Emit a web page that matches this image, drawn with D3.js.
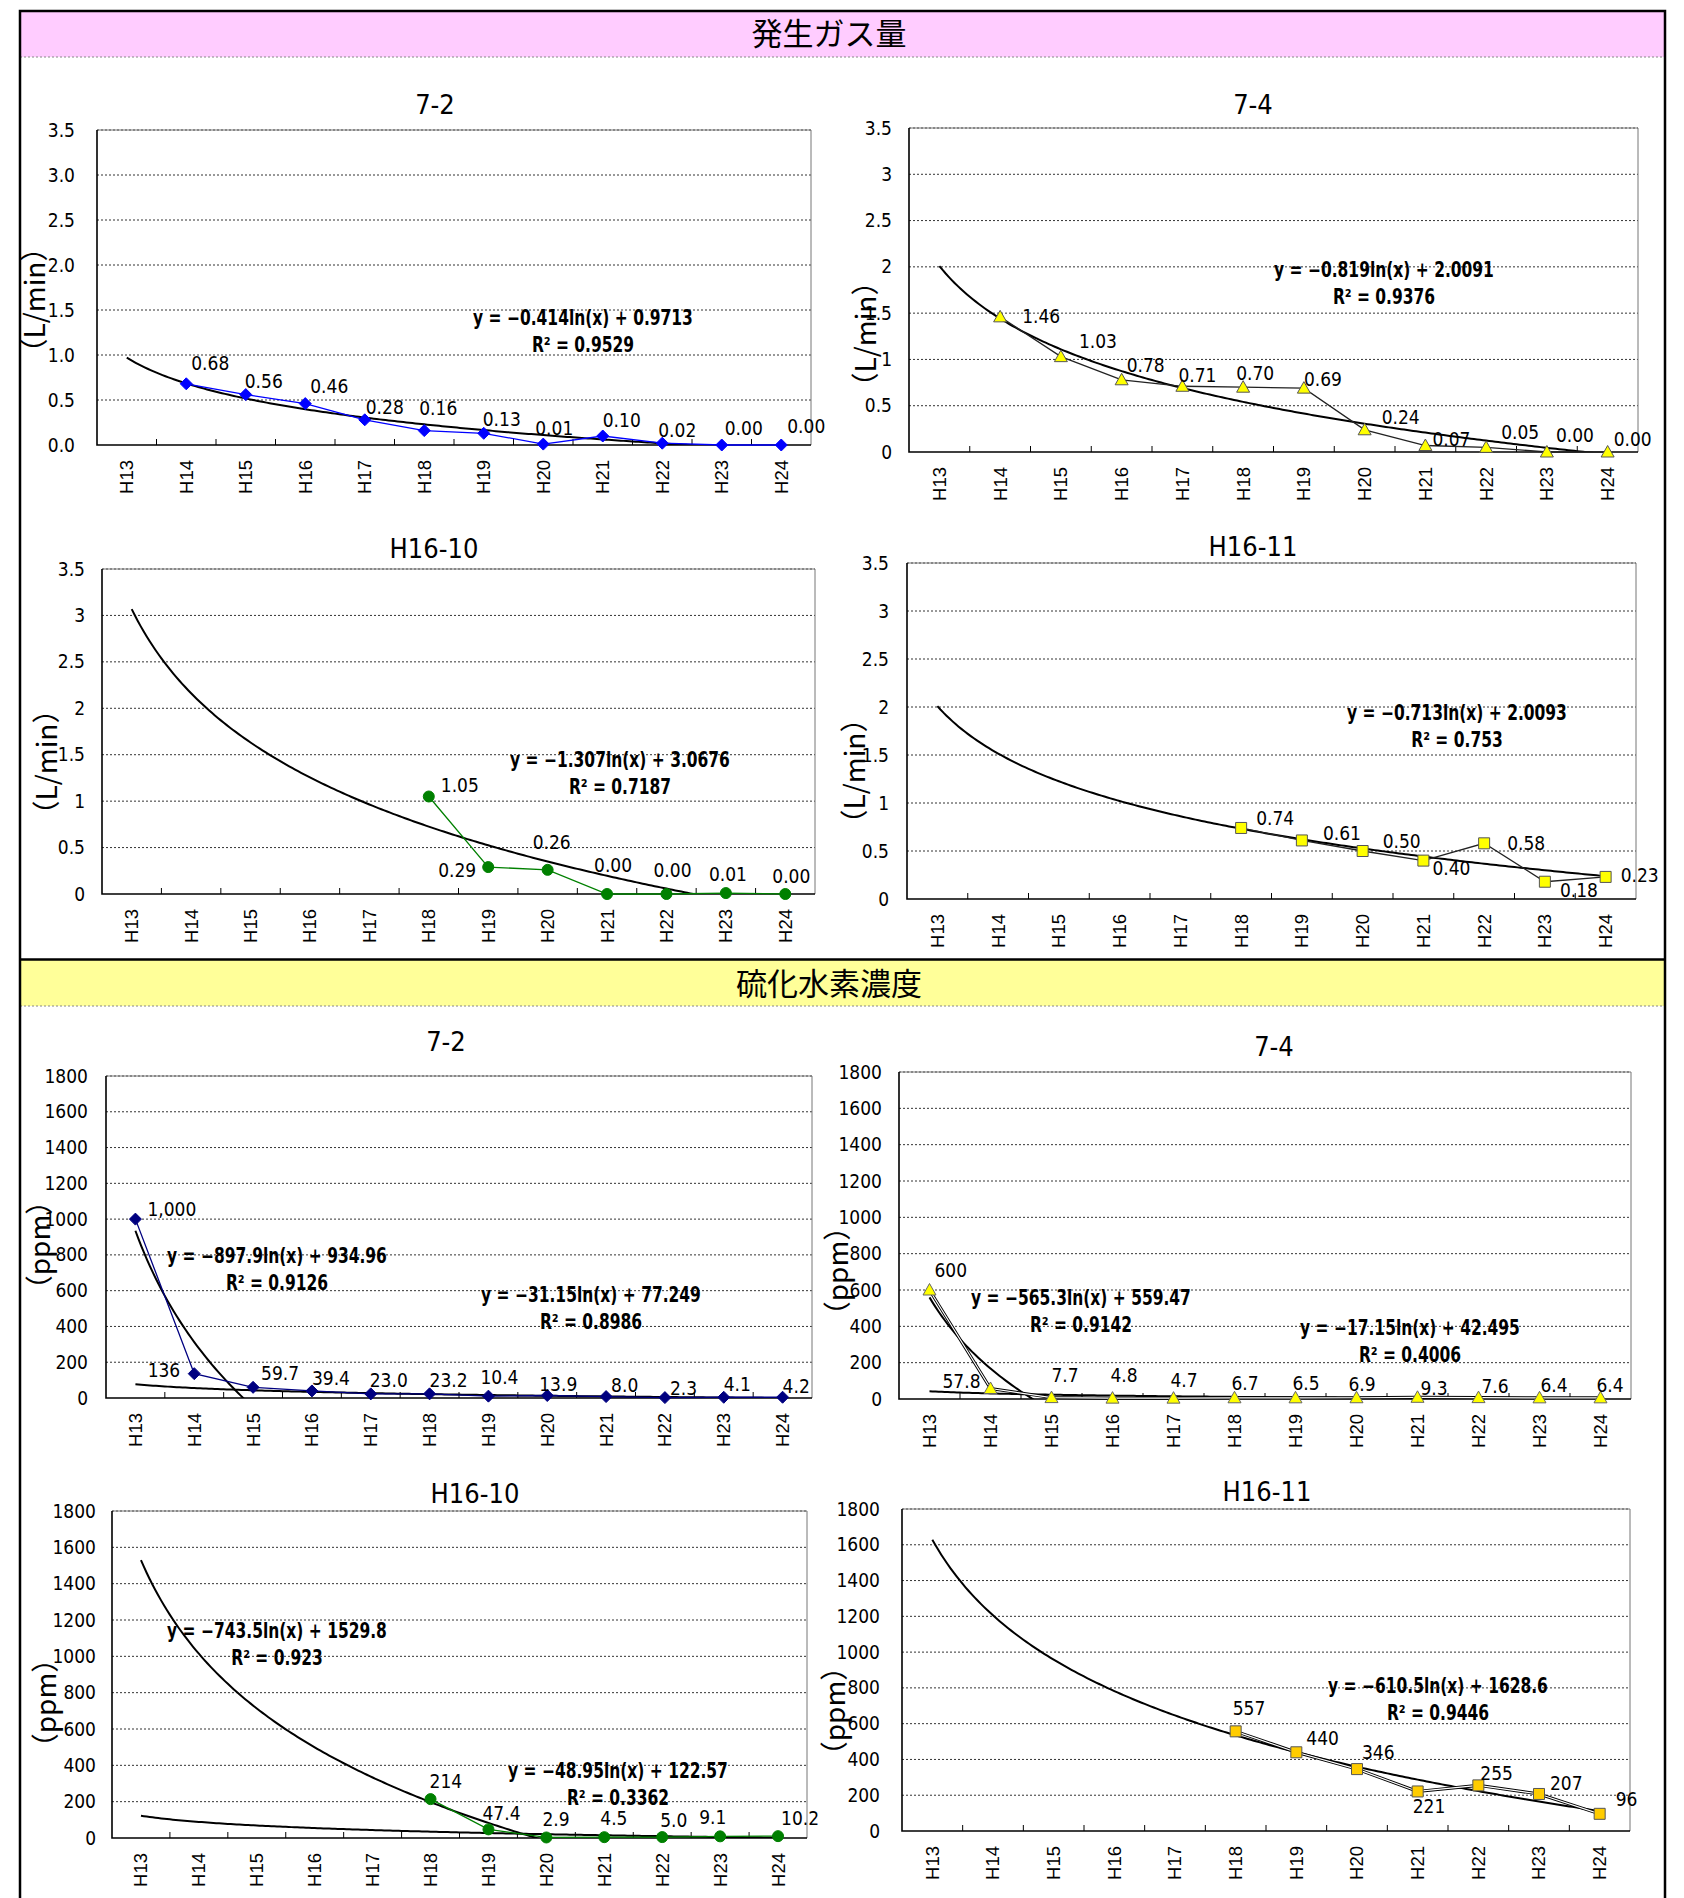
<!DOCTYPE html>
<html>
<head>
<meta charset="utf-8">
<script src="https://cdn.jsdelivr.net/npm/d3@7"></script>
<style>
body { margin: 0; background: #fff; }
</style>
</head>
<body>
<div id="vis"></div>
<script>
// categories
var years = ["H13", "H14", "H15", "H16", "H17", "H18", "H19", "H20", "H21", "H22", "H23", "H24"];

// 発生ガス量 (L/min)
var gas72   = [null, 0.68, 0.56, 0.46, 0.28, 0.16, 0.13, 0.01, 0.10, 0.02, 0.00, 0.00];
var gas74   = [null, 1.46, 1.03, 0.78, 0.71, 0.70, 0.69, 0.24, 0.07, 0.05, 0.00, 0.00];
var gasH1610 = [null, null, null, null, null, 1.05, 0.29, 0.26, 0.00, 0.00, 0.01, 0.00];
var gasH1611 = [null, null, null, null, null, 0.74, 0.61, 0.50, 0.40, 0.58, 0.18, 0.23];

// 硫化水素濃度 (ppm)
var h2s72   = [1000, 136, 59.7, 39.4, 23.0, 23.2, 10.4, 13.9, 8.0, 2.3, 4.1, 4.2];
var h2s74   = [600, 57.8, 7.7, 4.8, 4.7, 6.7, 6.5, 6.9, 9.3, 7.6, 6.4, 6.4];
var h2sH1610 = [null, null, null, null, null, 214, 47.4, 2.9, 4.5, 5.0, 9.1, 10.2];
var h2sH1611 = [null, null, null, null, null, 557, 440, 346, 221, 255, 207, 96];

// log trendlines: [slope, intercept, R2]
var trendGas72 = [[-0.414, 0.9713, 0.9529]];
var trendGas74 = [[-0.819, 2.0091, 0.9376]];
var trendGasH1610 = [[-1.307, 3.0676, 0.7187]];
var trendGasH1611 = [[-0.713, 2.0093, 0.753]];
var trendH2s72 = [[-897.9, 934.96, 0.9126], [-31.15, 77.249, 0.8986]];
var trendH2s74 = [[-565.3, 559.47, 0.9142], [-17.15, 42.495, 0.4006]];
var trendH2sH1610 = [[-743.5, 1529.8, 0.923], [-48.95, 122.57, 0.3362]];
var trendH2sH1611 = [[-610.5, 1628.6, 0.9446]];

// axis ticks
var gasTicks = [0, 0.5, 1, 1.5, 2, 2.5, 3, 3.5];
var h2sTicks = [0, 200, 400, 600, 800, 1000, 1200, 1400, 1600, 1800];

var narrow = "'Liberation Sans Narrow', 'DejaVu Sans Condensed', sans-serif";
var jp = "'Noto Sans CJK JP', sans-serif";

var svg = d3.select("#vis")
    .append("svg")
    .attr("width", 1684)
    .attr("height", 1898)
    .style("background", "#fff");

// frame + section headers
svg.append("rect").attr("x", 20).attr("y", 11).attr("width", 1645).attr("height", 46).attr("fill", "#FFCCFF");
svg.append("rect").attr("x", 20).attr("y", 960).attr("width", 1645).attr("height", 46).attr("fill", "#FFFF99");
[57, 1006].forEach(function(y) {
  svg.append("line").attr("x1", 20).attr("x2", 1665).attr("y1", y).attr("y2", y)
     .attr("stroke", "#888").attr("stroke-dasharray", "2,2");
});
svg.append("line").attr("x1", 20).attr("x2", 1665).attr("y1", 959.5).attr("y2", 959.5)
   .attr("stroke", "#000").attr("stroke-width", 2.5);
svg.append("rect").attr("x", 20).attr("y", 11).attr("width", 1645).attr("height", 1920)
   .attr("fill", "none").attr("stroke", "#000").attr("stroke-width", 2.5);

svg.append("text").attr("x", 829).attr("y", 45).attr("text-anchor", "middle")
   .style("font", "31px " + jp).text("発生ガス量");
svg.append("text").attr("x", 829).attr("y", 995).attr("text-anchor", "middle")
   .style("font", "31px " + jp).text("硫化水素濃度");

var markers = {
  diamond: "M0,-6L6,0L0,6L-6,0Z",
  triangle: "M0,-6.5L6.5,5L-6.5,5Z",
  square: "M-5.5,-5.5H5.5V5.5H-5.5Z"
};

var fmtMixed = function(v) { return v >= 100 ? d3.format(",.0f")(v) : d3.format(".1f")(v); };

var panels = [
  { id: "g72", data: gas72, trends: trendGas72, ticks: gasTicks, tickFmt: d3.format(".1f"),
    x0: 97, x1: 811, y0: 130, y1: 445, tickGap: 22,
    title: "7-2", titleX: 435, titleY: 114, ylab: "（L/min）", ylabX: 35, ylabY: 300,
    eq: [[583, 325]], marker: "diamond", stroke: "#0000FF", fill: "#0000FF", mstroke: "#0000FF", hollow: false,
    lbl: d3.format(".2f"),
    nudge: [null, [5,-14], [-1,-7], [5,-11], [1,-6], [-5,-16], [-1,-7], [-8,-9], [0,-9], [-4,-6], [3,-10], [6,-12]] },
  { id: "g74", data: gas74, trends: trendGas74, ticks: gasTicks, tickFmt: String,
    x0: 909, x1: 1638, y0: 128, y1: 452, tickGap: 17,
    title: "7-4", titleX: 1253, titleY: 114, ylab: "（L/min）", ylabX: 866, ylabY: 334,
    eq: [[1384, 277]], marker: "triangle", stroke: "#222", fill: "#FFFF00", mstroke: "#555", hollow: false,
    lbl: d3.format(".2f"),
    nudge: [null, [22,6], [18,-9], [5,-8], [-4,-4], [-7,-7], [0,-2], [17,-6], [7,0], [15,-8], [9,-10], [6,-6]] },
  { id: "g1610", data: gasH1610, trends: trendGasH1610, ticks: gasTicks, tickFmt: String,
    x0: 102, x1: 815, y0: 569, y1: 894, tickGap: 17,
    title: "H16-10", titleX: 434, titleY: 558, ylab: "（L/min）", ylabX: 47, ylabY: 762,
    eq: [[620, 767]], marker: "circle", stroke: "#008000", fill: "#008000", mstroke: "#008000", hollow: false,
    lbl: d3.format(".2f"),
    nudge: [null, null, null, null, null, [12,-5], [-12,10,"end"], [-15,-21], [-13,-22], [-13,-17], [-17,-12], [-13,-11]] },
  { id: "g1611", data: gasH1611, trends: trendGasH1611, ticks: gasTicks, tickFmt: String,
    x0: 907, x1: 1636, y0: 563, y1: 899, tickGap: 18,
    title: "H16-11", titleX: 1253, titleY: 556, ylab: "（L/min）", ylabX: 855, ylabY: 771,
    eq: [[1457, 720]], marker: "square", stroke: "#222", fill: "#FFFF00", mstroke: "#555", hollow: false,
    lbl: d3.format(".2f"),
    nudge: [null, null, null, null, null, [15,-3], [21,0], [20,-3], [9,14], [23,7], [15,15], [15,5]] },
  { id: "h72", data: h2s72, trends: trendH2s72, ticks: h2sTicks, tickFmt: String,
    x0: 106, x1: 812, y0: 1076, y1: 1398, tickGap: 18,
    title: "7-2", titleX: 446, titleY: 1051, ylab: "（ppm）", ylabX: 40, ylabY: 1245,
    eq: [[277, 1263], [591, 1302]], marker: "diamond", stroke: "#000080", fill: "#000080", mstroke: "#000080", hollow: false,
    lbl: fmtMixed,
    nudge: [[12,-3], [-14,3,"end"], [8,-7], [0,-6], [-1,-7], [0,-7], [-8,-12], [-8,-5], [5,-5], [5,-3], [0,-6], [0,-4]] },
  { id: "h74", data: h2s74, trends: trendH2s74, ticks: h2sTicks, tickFmt: String,
    x0: 899, x1: 1631, y0: 1072, y1: 1399, tickGap: 17,
    title: "7-4", titleX: 1274, titleY: 1056, ylab: "（ppm）", ylabX: 838, ylabY: 1271,
    eq: [[1081, 1305], [1410, 1335]], marker: "triangle", stroke: "#222", fill: "#FFFF00", mstroke: "#666", hollow: true,
    lbl: fmtMixed,
    nudge: [[5,-13], [-10,0,"end"], [0,-16], [-2,-16], [-3,-11], [-3,-8], [-3,-8], [-8,-7], [3,-2], [3,-5], [1,-6], [-4,-6]] },
  { id: "h1610", data: h2sH1610, trends: trendH2sH1610, ticks: h2sTicks, tickFmt: String,
    x0: 112, x1: 807, y0: 1511, y1: 1838, tickGap: 16,
    title: "H16-10", titleX: 475, titleY: 1503, ylab: "（ppm）", ylabX: 46, ylabY: 1703,
    eq: [[277, 1638], [618, 1778]], marker: "circle", stroke: "#008000", fill: "#008000", mstroke: "#008000", hollow: false,
    lbl: fmtMixed,
    nudge: [null, null, null, null, null, [-1,-11], [-6,-9], [-4,-11], [-4,-12], [-2,-10], [-21,-12], [3,-11]] },
  { id: "h1611", data: h2sH1611, trends: trendH2sH1611, ticks: h2sTicks, tickFmt: String,
    x0: 902, x1: 1630, y0: 1509, y1: 1831, tickGap: 22,
    title: "H16-11", titleX: 1267, titleY: 1501, ylab: "（ppm）", ylabX: 835, ylabY: 1711,
    eq: [[1438, 1693]], marker: "square", stroke: "#222", fill: "#FFCC00", mstroke: "#555", hollow: true,
    lbl: d3.format(",.0f"),
    nudge: [null, null, null, null, null, [-3,-16], [10,-7], [5,-10], [-5,22], [2,-5], [11,-4], [16,-8]] }
];

panels.forEach(drawPanel);

function drawPanel(p) {
  var g = svg.append("g");
  var yMax = p.ticks[p.ticks.length - 1];

  var x = d3.scaleBand().domain(years).range([p.x0, p.x1]).padding(0);
  var xt = d3.scaleLinear().domain([0.5, years.length + 0.5]).range([p.x0, p.x1]); // trendline x (1..12)
  var y = d3.scaleLinear().domain([0, yMax]).range([p.y1, p.y0]);

  g.append("clipPath").attr("id", "clip-" + p.id)
    .append("rect").attr("x", p.x0).attr("y", p.y0)
    .attr("width", p.x1 - p.x0).attr("height", p.y1 - p.y0);

  // gridlines
  g.selectAll(".grid")
    .data(p.ticks.filter(function(t) { return t > 0; }))
    .join("line")
      .attr("x1", p.x0).attr("x2", p.x1)
      .attr("y1", function(d) { return y(d); }).attr("y2", function(d) { return y(d); })
      .attr("stroke", "#333").attr("stroke-width", 1).attr("stroke-dasharray", "2,2");

  // plot border top/right
  g.append("path")
    .attr("d", "M" + p.x0 + "," + p.y0 + "H" + p.x1 + "V" + p.y1)
    .attr("fill", "none").attr("stroke", "#777").attr("stroke-width", 1);

  // y axis labels
  var ya = g.append("g")
    .attr("transform", "translate(" + (p.x0 - p.tickGap) + ",0)")
    .call(d3.axisLeft(y).tickValues(p.ticks).tickSize(0).tickPadding(0).tickFormat(p.tickFmt));
  ya.select(".domain").remove();
  ya.selectAll("text").style("font", "19px " + narrow).attr("fill", "#000");

  // x axis labels (rotated)
  var xa = g.append("g")
    .attr("transform", "translate(0," + p.y1 + ")")
    .call(d3.axisBottom(x).tickSize(0).tickPadding(0));
  xa.select(".domain").remove();
  xa.selectAll("text")
    .attr("transform", "rotate(-90)")
    .attr("x", -15).attr("y", 0).attr("dy", "0.35em")
    .attr("text-anchor", "end")
    .style("font", "18.5px 'Liberation Sans', Arial, sans-serif").attr("fill", "#000");

  // boundary ticks (inward)
  g.selectAll(".xtick")
    .data(d3.range(1, years.length))
    .join("line")
      .attr("x1", function(i) { return p.x0 + i * x.step(); })
      .attr("x2", function(i) { return p.x0 + i * x.step(); })
      .attr("y1", p.y1).attr("y2", p.y1 - 6)
      .attr("stroke", "#000").attr("stroke-width", 1);

  // left and bottom axis lines
  g.append("path")
    .attr("d", "M" + p.x0 + "," + p.y0 + "V" + p.y1 + "H" + p.x1)
    .attr("fill", "none").attr("stroke", "#000").attr("stroke-width", 1.6);

  // trendlines
  var tline = d3.line()
    .x(function(d) { return xt(d[0]); })
    .y(function(d) { return y(d[1]); });
  p.trends.forEach(function(t) {
    var pts = d3.range(1, years.length + 0.001, 0.05).map(function(v) { return [v, t[0] * Math.log(v) + t[1]]; });
    g.append("path")
      .attr("clip-path", "url(#clip-" + p.id + ")")
      .attr("d", tline(pts))
      .attr("fill", "none").attr("stroke", "#000").attr("stroke-width", 2);
  });

  // data series
  var pts = p.data.map(function(v, i) { return { v: v, i: i, yr: years[i] }; });
  var line = d3.line()
    .defined(function(d) { return d.v != null; })
    .x(function(d) { return x(d.yr) + x.bandwidth() / 2; })
    .y(function(d) { return y(d.v); });
  if (p.hollow) {
    g.append("path").attr("d", line(pts)).attr("fill", "none").attr("stroke", "#000").attr("stroke-width", 3);
    g.append("path").attr("d", line(pts)).attr("fill", "none").attr("stroke", "#fff").attr("stroke-width", 1.2);
  } else {
    g.append("path").attr("d", line(pts)).attr("fill", "none").attr("stroke", p.stroke).attr("stroke-width", 1.3);
  }

  var valid = pts.filter(function(d) { return d.v != null; });
  var mk = g.selectAll(".mk").data(valid).join(p.marker === "circle" ? "circle" : "path")
    .attr("fill", p.fill).attr("stroke", p.mstroke).attr("stroke-width", 1);
  if (p.marker === "circle") {
    mk.attr("cx", function(d) { return x(d.yr) + x.bandwidth() / 2; })
      .attr("cy", function(d) { return y(d.v); })
      .attr("r", 5.5);
  } else {
    mk.attr("d", markers[p.marker])
      .attr("transform", function(d) { return "translate(" + (x(d.yr) + x.bandwidth() / 2) + "," + y(d.v) + ")"; });
  }

  // data labels
  g.selectAll(".lbl").data(valid).join("text")
    .attr("x", function(d) { return x(d.yr) + x.bandwidth() / 2 + p.nudge[d.i][0]; })
    .attr("y", function(d) { return y(d.v) + p.nudge[d.i][1]; })
    .attr("text-anchor", function(d) { return p.nudge[d.i][2] || "start"; })
    .style("font", "19px " + narrow)
    .text(function(d) { return p.lbl(d.v); });

  // equations (squeezed horizontally like the original condensed face)
  p.trends.forEach(function(t, k) {
    var e = p.eq[k];
    var sign = t[1] >= 0 ? " + " : " − ";
    g.append("text").attr("transform", "translate(" + e[0] + "," + e[1] + ") scale(0.84,1)")
      .attr("text-anchor", "middle")
      .style("font", "bold 20.5px " + narrow)
      .text("y = " + (t[0] < 0 ? "−" : "") + Math.abs(t[0]) + "ln(x)" + sign + Math.abs(t[1]));
    g.append("text").attr("transform", "translate(" + e[0] + "," + (e[1] + 27) + ") scale(0.84,1)")
      .attr("text-anchor", "middle")
      .style("font", "bold 20.5px " + narrow)
      .text("R² = " + t[2]);
  });

  // title and y label
  g.append("text").attr("x", p.titleX).attr("y", p.titleY).attr("text-anchor", "middle")
    .style("font", "27px " + narrow).text(p.title);
  g.append("text")
    .attr("transform", "translate(" + p.ylabX + "," + p.ylabY + ") rotate(-90)")
    .attr("text-anchor", "middle").attr("dy", "0.35em")
    .style("font", "28px " + jp).text(p.ylab);
}
</script>
</body>
</html>
